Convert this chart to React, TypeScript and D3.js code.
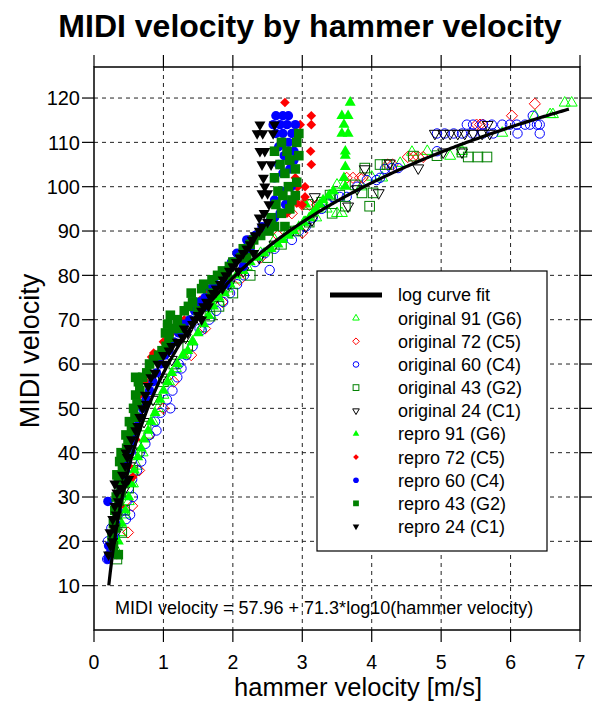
import React from 'react';
import * as d3 from 'd3';

type Pt = [number, number];

// [hammer velocity m/s, MIDI velocity]
const orig91: Pt[] = [[0.32,18],[0.38,22],[0.44,26],[0.5,29],[0.56,33],[0.62,37],[0.7,40],[0.78,44],[0.85,47],[0.92,50],[1.0,53],[1.08,56],[1.18,59],[1.3,62],[1.42,65],[1.55,68],[1.68,71],[1.8,74],[1.92,77],[2.05,79],[2.2,82],[2.4,85],[2.6,88],[2.8,90],[3.04,92],[3.2,93],[3.35,95],[3.5,94],[3.57,94],[3.4,98],[3.5,100.4],[3.6,100.4],[3.85,100],[4.0,102.2],[4.15,102],[4.41,105.3],[4.58,107.8],[4.8,108],[5.13,106.9],[5.3,108],[5.88,112.1],[6.35,116],[6.57,116.3],[6.61,116.3],[6.78,118.9],[6.88,118.9]];
const orig72: Pt[] = [[0.49,22],[0.55,28],[0.65,36],[0.8,44],[1.0,50],[1.15,56],[1.4,62],[1.6,68],[1.85,74],[2.1,79],[2.4,84],[2.65,89],[2.85,94],[3.0,95.9],[3.1,95.9],[3.21,95.9],[3.0,89.6],[3.64,102],[3.73,102],[3.83,102],[3.87,102],[4.23,105],[4.3,105],[4.52,106.7],[4.6,106.7],[4.67,106.7],[4.74,106.7],[5.51,114],[5.56,114],[5.6,114],[6.02,116],[6.35,118.7]];
const orig60: Pt[] = [[0.19,16],[0.22,17],[0.27,18],[0.2,20],[0.3,21],[0.25,23],[0.36,24],[0.46,25],[0.52,26],[0.4,27],[0.47,29],[0.56,30],[0.5,32],[0.55,34],[0.62,36],[0.68,38],[0.66,40],[0.74,42],[0.8,44],[0.9,45],[0.88,47],[0.96,49],[1.1,50],[1.05,52],[1.13,54],[1.2,57],[1.26,59],[1.22,60],[1.33,62],[1.42,64],[1.55,67.7],[1.52,68],[1.66,70],[1.76,72],[1.86,74],[1.96,76],[2.06,78],[2.16,80],[2.53,81.2],[2.32,83],[2.46,85],[2.6,86],[2.85,88],[2.95,90],[3.05,91],[3.15,93],[3.28,95],[3.35,96.5],[3.44,97.7],[3.54,97.7],[3.64,97.7],[3.79,100],[3.93,101.5],[4.07,101.5],[4.12,102],[4.29,104.2],[4.38,104.2],[4.19,104],[4.94,108],[4.94,112],[5.05,112],[5.18,112],[5.3,112],[5.45,112],[5.6,112],[5.75,112],[6.1,112],[6.42,112],[5.37,114],[5.46,114],[5.6,114],[5.73,114],[5.88,114],[5.99,114],[6.09,114],[6.21,114],[6.28,114],[6.38,114],[6.42,114],[6.32,116]];
const orig43: Pt[] = [[0.33,16],[0.4,22],[0.44,27],[0.5,32],[0.56,36],[0.62,40],[0.75,46],[0.9,52],[1.0,56],[1.15,60],[1.35,64],[1.67,70.8],[1.8,73],[2.0,76],[2.25,80],[2.5,84],[2.7,87],[2.9,90],[3.1,92],[3.08,96],[3.43,94],[3.28,96.5],[3.62,95.6],[3.97,95.6],[3.86,98.6],[4.02,98.6],[3.4,98.1],[3.54,98.1],[3.76,100.4],[3.9,104.2],[4.12,105],[4.22,105],[4.6,106.9],[4.94,107],[5.39,106.7],[5.53,106.7],[5.66,106.7],[5.3,107.8]];
const orig24: Pt[] = [[0.27,18],[0.32,22],[0.38,27],[0.45,32],[0.52,37],[0.62,42],[0.72,47],[0.85,52],[0.98,57],[1.12,61],[1.32,66],[1.52,70],[1.72,74],[1.95,78],[2.15,81],[2.38,84],[2.6,87],[2.85,90],[3.05,91],[3.14,92.5],[3.18,97.7],[3.66,95.6],[3.79,99.5],[4.1,98.6],[3.9,104],[4.26,105.3],[4.67,104.2],[4.91,112],[5.03,112],[5.13,112],[5.24,112],[5.34,112],[5.46,112],[5.59,112],[5.7,112],[5.03,107.8],[5.3,107.8],[5.67,114]];
const repro91: Pt[] = [[0.3,17],[0.35,20],[0.4,24],[0.45,27],[0.5,30],[0.54,33],[0.58,36],[0.63,39],[0.68,41],[0.72,43],[0.78,45],[0.82,47],[0.88,49],[0.95,52],[1.0,54],[1.06,56],[1.12,58],[1.2,60],[1.28,62],[1.35,63],[1.42,65],[1.5,67],[1.58,69],[1.65,71],[1.72,73],[1.8,75],[1.88,76],[1.96,78],[2.05,80],[2.15,81],[2.25,83],[2.35,84],[2.45,85],[2.55,86],[2.65,87],[2.72,88],[2.8,89],[2.88,90],[2.95,91],[3.02,92],[3.1,93],[3.15,94],[3.2,95],[3.25,96],[3.05,96],[3.3,97],[3.38,98],[3.45,99],[3.62,100],[3.6,102],[3.62,104.5],[3.62,107],[3.62,108],[3.57,112],[3.66,112],[3.6,114],[3.57,116],[3.66,116],[3.69,119]];
const repro72: Pt[] = [[0.33,17],[0.3,23],[0.38,28],[0.56,34.5],[0.5,37],[0.6,43],[0.66,53],[0.75,56],[0.83,61.6],[0.86,62.5],[1.0,65],[1.12,67],[1.3,70],[1.53,74.4],[1.63,76.7],[1.85,80],[2.0,83],[2.1,85],[2.22,88],[2.51,92],[2.78,94],[2.92,96.3],[3.0,95.9],[2.93,99.9],[3.04,97.7],[3.04,100],[2.9,102],[2.82,105.3],[3.13,105],[3.12,108],[2.97,114],[3.13,114],[3.13,116],[2.75,119]];
const repro60: Pt[] = [[0.2,16],[0.23,17],[0.25,18],[0.21,19],[0.2,29],[0.28,21],[0.31,24],[0.34,27],[0.37,30],[0.39,32],[0.42,34],[0.45,36],[0.48,38],[0.52,40],[0.55,42],[0.58,44],[0.62,46],[0.66,48],[0.7,50],[0.75,52],[0.8,54],[0.85,56],[0.9,58],[0.96,60],[1.02,62],[1.08,63],[1.15,65],[1.22,67],[1.3,69],[1.38,70],[1.45,72],[1.6,73],[1.52,74],[1.6,75],[1.68,77],[1.75,78],[1.9,78],[1.82,80],[1.9,81],[2.15,82],[1.98,83],[2.06,85],[2.2,88],[2.25,86],[2.32,89],[2.42,91],[2.52,92],[2.6,93],[2.68,94],[2.76,96],[2.6,97],[2.7,99],[2.84,100],[2.6,102],[2.72,103],[2.82,104],[2.66,105],[2.88,106],[2.74,107],[2.88,108],[2.66,109],[2.8,110],[2.62,112],[2.72,112],[2.85,112],[2.58,114],[2.68,114],[2.78,114],[2.9,114],[2.62,116],[2.72,116],[2.8,116]];
const repro43: Pt[] = [[0.35,17],[0.28,19],[0.26,21],[0.31,23],[0.28,24],[0.33,26],[0.3,27],[0.36,29],[0.32,30],[0.39,31],[0.35,33],[0.43,33],[0.33,35],[0.41,36],[0.37,38],[0.44,39],[0.39,40],[0.47,41],[0.49,43],[0.46,44],[0.54,45],[0.51,47],[0.59,48],[0.57,50],[0.62,51],[0.6,53],[0.66,54],[0.64,56],[0.7,57],[0.6,57],[0.76,58],[0.8,60],[0.86,61],[0.93,62],[0.98,63],[1.04,64],[1.08,66],[1.03,67],[1.14,68],[1.25,68],[1.06,69],[1.2,70],[1.1,71],[1.3,72],[1.5,72],[1.36,73],[1.42,74],[1.4,76],[1.7,76],[1.55,77],[1.58,78],[1.7,79],[1.78,80],[1.92,80],[1.85,81],[1.95,82],[2.0,83],[2.12,84],[2.2,84],[2.15,86],[2.25,87],[2.3,88],[2.4,89],[2.52,90],[2.6,91],[2.75,91],[2.55,93],[2.7,94],[2.82,95],[2.62,96],[2.85,97],[2.72,98],[2.9,98],[2.65,99],[2.8,100],[2.92,101],[2.6,102],[2.75,103],[2.9,104],[2.68,105],[2.82,106],[2.95,107],[2.6,108],[2.78,108],[2.92,110],[2.7,110],[2.95,112]];
const repro24: Pt[] = [[0.21,17],[0.24,19],[0.27,20],[0.23,22],[0.29,23],[0.27,25],[0.32,26],[0.3,28],[0.35,29],[0.33,31],[0.38,32],[0.3,33],[0.45,33],[0.5,34],[0.41,35],[0.45,37],[0.48,39],[0.46,40],[0.5,41],[0.54,43],[0.6,45],[0.63,46],[0.66,48],[0.7,50],[0.75,51],[0.74,53],[0.78,55],[0.82,57],[0.88,58],[0.92,60],[1.02,60],[1.0,62],[1.08,63],[1.12,64],[1.2,65],[1.28,66],[1.35,67],[1.3,68],[1.42,69],[1.45,70],[1.55,70],[1.5,71],[1.55,72],[1.58,73],[1.65,73],[1.62,74],[1.68,75],[1.72,76],[1.76,77],[1.85,77],[1.82,78],[1.86,79],[1.9,80],[1.95,81],[2.08,81],[2.0,82],[2.05,83],[2.1,84],[2.15,85],[2.3,85],[2.2,86],[2.25,87],[2.28,88],[2.32,89],[2.38,90],[2.42,91],[2.5,92],[2.38,93],[2.45,94],[2.52,96],[2.42,98.5],[2.5,98.5],[2.46,100],[2.44,102],[2.42,105],[2.55,105],[2.39,108],[2.46,108],[2.35,112],[2.43,112],[2.58,112],[2.39,114],[2.6,114]];

const xTicks = [0, 1, 2, 3, 4, 5, 6, 7];
const yTicks = [10, 20, 30, 40, 50, 60, 70, 80, 90, 100, 110, 120];
const fitIntercept = 57.96;
const fitSlope = 71.3;
const fitRange: [number, number] = [0.213, 6.84];

const W = 592;
const H = 702;
const L = 94, R = 580, T = 67, B = 630;
const FONT = '"Liberation Sans", Arial, Helvetica, sans-serif';

const x = d3.scaleLinear().domain([0, 7]).range([L, R]);
const y = d3.scaleLinear().domain([0, 127]).range([B, T]);

type Shape = 'triUp' | 'triDown' | 'circle' | 'square' | 'diamond' | 'diamondSmall';

interface Series { label: string; data: Pt[]; shape: Shape; color: string; filled: boolean; }

const LIME = '#00FF00';
const RED = '#FF0000';
const BLUE = '#0000FF';
const DGREEN = '#008000';
const BLACK = '#000000';

const seriesList: Series[] = [
  { label: 'original 91 (G6)', data: orig91, shape: 'triUp', color: LIME, filled: false },
  { label: 'original 72 (C5)', data: orig72, shape: 'diamond', color: RED, filled: false },
  { label: 'original 60 (C4)', data: orig60, shape: 'circle', color: BLUE, filled: false },
  { label: 'original 43 (G2)', data: orig43, shape: 'square', color: DGREEN, filled: false },
  { label: 'original 24 (C1)', data: orig24, shape: 'triDown', color: BLACK, filled: false },
  { label: 'repro 91 (G6)', data: repro91, shape: 'triUp', color: LIME, filled: true },
  { label: 'repro 72 (C5)', data: repro72, shape: 'diamondSmall', color: RED, filled: true },
  { label: 'repro 60 (C4)', data: repro60, shape: 'circle', color: BLUE, filled: true },
  { label: 'repro 43 (G2)', data: repro43, shape: 'square', color: DGREEN, filled: true },
  { label: 'repro 24 (C1)', data: repro24, shape: 'triDown', color: BLACK, filled: true },
];

function Marker({ shape, cx, cy, color, filled, scale }: { shape: Shape; cx: number; cy: number; color: string; filled: boolean; scale: number }) {
  const fill = filled ? color : 'none';
  const stroke = filled ? 'none' : color;
  const sw = 1;
  if (shape === 'circle') {
    return <circle cx={cx} cy={cy} r={4.7 * scale} fill={fill} stroke={stroke} strokeWidth={sw} />;
  }
  if (shape === 'square') {
    const h = 4.8 * scale;
    return <rect x={cx - h} y={cy - h} width={2 * h} height={2 * h} fill={fill} stroke={stroke} strokeWidth={sw} />;
  }
  if (shape === 'diamond' || shape === 'diamondSmall') {
    const d = (shape === 'diamond' ? 5.6 : 4.8) * scale;
    const p = `M${cx},${cy - d}L${cx + d},${cy}L${cx},${cy + d}L${cx - d},${cy}Z`;
    return <path d={p} fill={fill} stroke={stroke} strokeWidth={sw} />;
  }
  const a = 11 * scale;
  const rr = a / Math.sqrt(3);
  const s = shape === 'triUp' ? 1 : -1;
  const p = `M${cx},${cy - s * rr}L${cx + a / 2},${cy + s * rr / 2}L${cx - a / 2},${cy + s * rr / 2}Z`;
  return <path d={p} fill={fill} stroke={stroke} strokeWidth={sw} />;
}

export default function App() {
  const fitPts: Pt[] = d3.range(0, 301).map((i) => {
    const v = fitRange[0] + (fitRange[1] - fitRange[0]) * (i / 300);
    return [v, fitIntercept + fitSlope * Math.log10(v)];
  });
  const line = d3.line<Pt>().x((d) => x(d[0])).y((d) => y(d[1]));

  const legendX = 317, legendY = 271, legendW = 230, legendH = 280;
  const entryY0 = 295, entryStep = 23.15;

  return (
    <svg width={W} height={H} style={{ position: 'absolute', left: 0, top: 0, background: '#fff' }} fontFamily={FONT}>
      <rect x={0} y={0} width={W} height={H} fill="#fff" />
      <text x={310} y={37} textAnchor="middle" fontSize={32} fontWeight="bold">MIDI velocity by hammer velocity</text>

      {/* grid */}
      {xTicks.filter((t) => t > 0 && t < 7).map((t) => (
        <line key={'gx' + t} x1={x(t)} x2={x(t)} y1={T} y2={B} stroke="#222" strokeWidth={1} strokeDasharray="4,4" />
      ))}
      {yTicks.map((t) => (
        <line key={'gy' + t} x1={L} x2={R} y1={y(t)} y2={y(t)} stroke="#222" strokeWidth={1} strokeDasharray="4,4" />
      ))}

      {/* ticks */}
      {xTicks.map((t) => (
        <g key={'tx' + t}>
          <line x1={x(t)} x2={x(t)} y1={B} y2={B + 12} stroke="#000" strokeWidth={1.2} />
          <line x1={x(t)} x2={x(t)} y1={T} y2={T - 12} stroke="#000" strokeWidth={1.2} />
          <text x={x(t)} y={669} textAnchor="middle" fontSize={19.5}>{t}</text>
        </g>
      ))}
      {yTicks.map((t) => (
        <g key={'ty' + t}>
          <line x1={L} x2={L - 12} y1={y(t)} y2={y(t)} stroke="#000" strokeWidth={1.2} />
          <line x1={R} x2={R + 12} y1={y(t)} y2={y(t)} stroke="#000" strokeWidth={1.2} />
          <text x={80} y={y(t)} dy="0.36em" textAnchor="end" fontSize={20}>{t}</text>
        </g>
      ))}

      {/* points */}
      {seriesList.map((s, si) => (
        <g key={'s' + si}>
          {s.data.map((d, i) => (
            <Marker key={i} shape={s.shape} cx={x(d[0])} cy={y(d[1])} color={s.color} filled={s.filled} scale={1} />
          ))}
        </g>
      ))}

      {/* fit curve */}
      <path d={line(fitPts) || ''} fill="none" stroke="#000" strokeWidth={3.2} />

      {/* box */}
      <rect x={L} y={T} width={R - L} height={B - T} fill="none" stroke="#000" strokeWidth={1.5} />

      {/* legend */}
      <rect x={legendX} y={legendY} width={legendW} height={legendH} fill="#fff" stroke="#000" strokeWidth={1.2} />
      <line x1={330} x2={382} y1={entryY0} y2={entryY0} stroke="#000" strokeWidth={5} />
      <text x={398} y={entryY0} dy="0.36em" fontSize={18}>log curve fit</text>
      {seriesList.map((s, i) => {
        const cy = entryY0 + entryStep * (i + 1);
        return (
          <g key={'lg' + i}>
            <Marker shape={s.shape} cx={356} cy={cy} color={s.color} filled={s.filled} scale={0.6} />
            <text x={398} y={cy} dy="0.36em" fontSize={18}>{s.label}</text>
          </g>
        );
      })}

      <text x={115} y={614} fontSize={18}>MIDI velocity = 57.96 + 71.3*log10(hammer velocity)</text>

      <text x={358} y={696} textAnchor="middle" fontSize={25.5}>hammer velocity [m/s]</text>
      <text transform="translate(39,351) rotate(-90)" textAnchor="middle" fontSize={27}>MIDI velocity</text>
    </svg>
  );
}
